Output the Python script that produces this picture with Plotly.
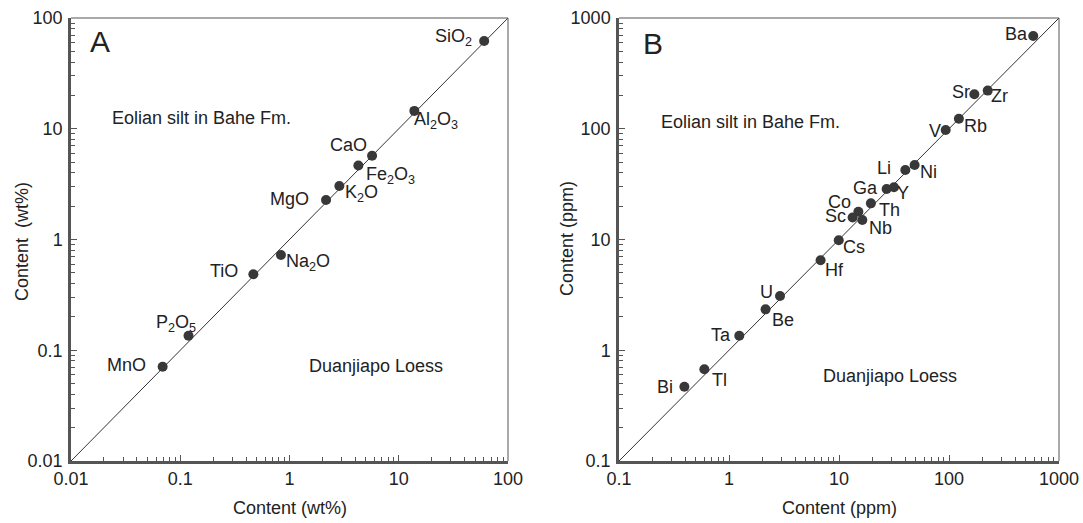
import numpy as np
import plotly.graph_objects as go

# ---------------- data ----------------
A_names = ["SiO<sub>2</sub>", "Al<sub>2</sub>O<sub>3</sub>", "CaO", "Fe<sub>2</sub>O<sub>3</sub>",
           "K<sub>2</sub>O", "MgO", "Na<sub>2</sub>O", "TiO", "P<sub>2</sub>O<sub>5</sub>", "MnO"]
A_loess = [60.5, 13.9, 5.7, 4.27, 2.86, 2.16, 0.835, 0.467, 0.119, 0.069]
A_bahe = [62.0, 14.5, 5.7, 4.65, 3.04, 2.27, 0.724, 0.485, 0.135, 0.071]

B_names = ["Ba", "Zr", "Sr", "Rb", "V", "Ni", "Li", "Y", "Ga", "Th", "Co", "Sc", "Nb",
           "Cs", "Hf", "U", "Be", "Ta", "Tl", "Bi"]
B_loess = [583, 225, 170, 123, 93.3, 48.7, 40.1, 31.6, 27.1, 19.5, 15.0, 13.3, 16.3,
           9.95, 6.8, 2.91, 2.15, 1.24, 0.597, 0.393]
B_bahe = [687, 221, 205, 123, 97.5, 47.1, 42.4, 29.6, 28.6, 21.2, 17.8, 15.8, 15.0,
          9.85, 6.5, 3.09, 2.34, 1.35, 0.673, 0.469]

A_range = [0.01, 100]
B_range = [0.1, 1000]
A_ticks = ["0.01", "0.1", "1", "10", "100"]
B_ticks = ["0.1", "1", "10", "100", "1000"]

# label offsets (pixels, dx right, dy down)
A_off = [(-31, -3), (22, 10), (-24, -11), (32, 10), (22, 7), (-37, -1), (27, 7),
         (-29, -3), (-13, -12), (-36, -2)]
B_off = [(-17, -2), (12, 5), (-13, -2), (17, 7), (-11, 1), (14, 7), (-21, -2), (9, 6),
         (-21, -1), (19, 7), (-19, -10), (-17, -2), (18, 8), (15, 7), (14, 10), (-14, -4),
         (17, 11), (-18, -1), (15, 11), (-19, 0)]

# ---------------- style ----------------
W, H = 1083, 523
FONT = "Liberation Sans, Arial, Helvetica, sans-serif"
TXT = "#222222"
AX = "#555555"
MK = "#383838"
FS = 18

fig = go.Figure()

def px(x):
    return x / W

def py(y):
    return 1 - y / H

panels = [
    dict(x="x", y="y", xa="xaxis", ya="yaxis", names=A_names, xs=A_loess, ys=A_bahe,
         rng=A_range, ticks=A_ticks, off=A_off, dom=[71, 508]),
    dict(x="x2", y="y2", xa="xaxis2", ya="yaxis2", names=B_names, xs=B_loess, ys=B_bahe,
         rng=B_range, ticks=B_ticks, off=B_off, dom=[619, 1059]),
]

annotations = []
shapes = []
for p in panels:
    # 1:1 line
    fig.add_trace(go.Scatter(x=p["rng"], y=p["rng"], mode="lines", xaxis=p["x"], yaxis=p["y"],
                             line=dict(color="#333333", width=1), showlegend=False,
                             hoverinfo="skip"))
    fig.add_trace(go.Scatter(x=p["xs"], y=p["ys"], mode="markers", xaxis=p["x"], yaxis=p["y"],
                             marker=dict(color=MK, size=10), showlegend=False,
                             text=p["names"], hoverinfo="text+x+y"))
    for n, xv, yv, (dx, dy) in zip(p["names"], p["xs"], p["ys"], p["off"]):
        annotations.append(dict(x=np.log10(xv), y=np.log10(yv), xref=p["x"], yref=p["y"],
                                text=n, showarrow=False, xanchor="center", yanchor="middle",
                                xshift=dx, yshift=-dy,
                                font=dict(family=FONT, size=FS, color=TXT)))
    lo, hi = np.log10(p["rng"][0]), np.log10(p["rng"][1])
    tickvals = [10 ** e for e in range(int(round(lo)), int(round(hi)) + 1)]
    minor_vals = [m * 10 ** e for e in range(int(round(lo)), int(round(hi))) for m in range(2, 10)]
    common = dict(type="log", range=[lo, hi], showgrid=False, zeroline=False,
                  automargin=False,
                  showline=True, linecolor=AX, linewidth=2.5, mirror=False,
                  ticks="inside", ticklen=6, tickwidth=1, tickcolor=AX,
                  tickmode="array", tickvals=tickvals, ticktext=p["ticks"],
                  tickfont=dict(family=FONT, size=FS, color=TXT),
                  minor=dict(ticks="inside", ticklen=4, tickwidth=1, tickcolor=AX,
                             tickvals=minor_vals, showgrid=False))
    fig.layout[p["xa"]] = dict(common, domain=[px(p["dom"][0]), px(p["dom"][1])],
                               anchor=p["y"], ticklabelstandoff=0)
    fig.layout[p["ya"]] = dict(common, domain=[py(461), py(18)], anchor=p["x"],
                               ticklabelstandoff=2)
    # thin top and right frame
    shapes.append(dict(type="line", xref=p["x"] + " domain", yref=p["y"] + " domain",
                       x0=0, x1=1, y0=1, y1=1, line=dict(color=AX, width=1)))
    shapes.append(dict(type="line", xref=p["x"] + " domain", yref=p["y"] + " domain",
                       x0=1, x1=1, y0=0, y1=1, line=dict(color=AX, width=1)))

def ptext(t, x, y, size=FS, angle=0):
    return dict(text=t, x=px(x), y=py(y), xref="paper", yref="paper", showarrow=False,
                xanchor="center", yanchor="middle", textangle=angle,
                font=dict(family=FONT, size=size, color=TXT))

annotations += [
    ptext("A", 100, 42, size=30),
    ptext("B", 652.5, 43, size=30),
    ptext("Eolian silt in Bahe Fm.", 201, 118),
    ptext("Eolian silt in Bahe Fm.", 750.5, 122),
    ptext("Duanjiapo Loess", 375.5, 366),
    ptext("Duanjiapo Loess", 890, 376),
    ptext("Content (wt%)", 289.5, 508),
    ptext("Content (ppm)", 839, 508),
    ptext("Content  (wt%)", 22, 242, angle=-90),
    ptext("Content (ppm)", 567, 239, angle=-90),
]

fig.update_layout(width=W, height=H, margin=dict(l=0, r=0, t=0, b=0, autoexpand=False),
                  paper_bgcolor="white", plot_bgcolor="white",
                  annotations=annotations, shapes=shapes,
                  font=dict(family=FONT, size=FS, color=TXT))

fig.write_html("out.html", config={"displayModeBar": False},
               post_script="document.body.style.margin='0';document.body.style.padding='0';"
                           "document.body.style.overflow='hidden';")
